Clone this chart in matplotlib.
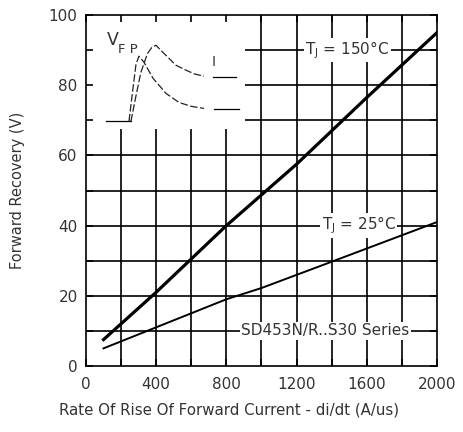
import numpy as np
import matplotlib
matplotlib.use("Agg")
import matplotlib.pyplot as plt
from matplotlib.patches import Rectangle

# --- DATA ---
didt_150 = [100, 400, 800, 1200, 1600, 2000]
vfr_150 = [7.5, 21.0, 40.0, 57.5, 76.5, 95.0]

didt_25 = [100, 800, 1000, 1400, 2000]
vfr_25 = [5.0, 19.0, 22.2, 29.7, 41.0]

# inset sketch (schematic waveform drawn in chart units)
base_x = [114, 256]
base_y = [69.7, 69.7]
wave_a_x = [256, 285, 313, 350, 375, 399, 440, 513, 570, 620, 672]
wave_a_y = [69.7, 77.0, 83.7, 89.0, 90.8, 91.4, 89.3, 85.7, 84.3, 83.2, 82.6]
wave_b_x = [245, 265, 285, 302, 330, 382, 456, 530, 600, 672]
wave_b_y = [69.7, 78.0, 86.0, 88.3, 86.6, 82.0, 77.7, 75.1, 74.0, 73.4]
flat_a_x = [724, 855]
flat_a_y = [82.4, 82.4]
flat_b_x = [730, 872]
flat_b_y = [73.2, 73.2]

x_ticks = [0, 400, 800, 1200, 1600, 2000]
y_ticks = [0, 20, 40, 60, 80, 100]
x_grid = np.arange(200, 2000, 200)
y_grid = np.arange(10, 100, 10)

txt = '#333333'
plt.rcParams['font.family'] = ['DejaVu Sans']

fig = plt.figure(figsize=(4.63, 4.32), dpi=100)
ax = fig.add_axes([0.1857, 0.153, 0.758, 0.812])

ax.set_xlim(0, 2000)
ax.set_ylim(0, 100)
ax.set_xticks(x_ticks)
ax.set_yticks(y_ticks)
ax.set_xticks(x_grid, minor=True)
ax.set_yticks(y_grid, minor=True)
ax.tick_params(which='both', direction='in', length=5, width=1.2,
               top=True, right=True, labelsize=11, labelcolor=txt, pad=6)
ax.tick_params(axis='x', which='major', pad=8)

# grid drawn by hand so the white inset area can hide it but not the ticks
for gx in x_grid:
    ax.axvline(gx, color='black', lw=1.2, zorder=1)
for gy in y_grid:
    ax.axhline(gy, color='black', lw=1.2, zorder=1)

# white area for the inset sketch
ax.add_patch(Rectangle((0, 67.5), 905, 32.5, facecolor='white', edgecolor='none', zorder=1.5))

ax.plot(didt_150, vfr_150, color='black', lw=2.3, zorder=3)
ax.plot(didt_25, vfr_25, color='black', lw=1.4, zorder=3)

# inset waveform
ax.plot(base_x, base_y, color='black', lw=0.9, zorder=3)
ax.plot(wave_a_x, wave_a_y, color='#222222', lw=0.9, ls=(0, (6, 2)), zorder=3)
ax.plot(wave_b_x, wave_b_y, color='#222222', lw=0.9, ls=(0, (6, 2)), zorder=3)
ax.plot(flat_a_x, flat_a_y, color='black', lw=0.9, zorder=3)
ax.plot(flat_b_x, flat_b_y, color='black', lw=0.9, zorder=3)
ax.text(118, 91.4, 'V', fontsize=12.5, color=txt, zorder=4)
ax.text(180, 89.2, 'F P', fontsize=9.5, color=txt, zorder=4)
ax.text(718, 85.5, 'I', fontsize=10, color=txt, zorder=4)

box = dict(facecolor='white', edgecolor='none', pad=1)
ax.text(1490, 90, r'T$_\mathregular{J}$ = 150°C', fontsize=11, color=txt,
        ha='center', va='center', bbox=box, zorder=2)
ax.text(1555, 40, r'T$_\mathregular{J}$ = 25°C', fontsize=11, color=txt,
        ha='center', va='center', bbox=box, zorder=2)
ax.text(1365, 10, 'SD453N/R..S30 Series', fontsize=11, color=txt,
        ha='center', va='center', bbox=box, zorder=2)

ax.set_xlabel('Rate Of Rise Of Forward Current - di/dt (A/us)', fontsize=10.8, color=txt)
ax.xaxis.set_label_coords(0.407, -0.105)
ax.set_ylabel('Forward Recovery (V)', fontsize=10.5, color=txt, labelpad=17)

for s in ax.spines.values():
    s.set_color('black')
    s.set_linewidth(1.2)
    s.set_zorder(4)

fig.savefig('out.png', dpi=100)
